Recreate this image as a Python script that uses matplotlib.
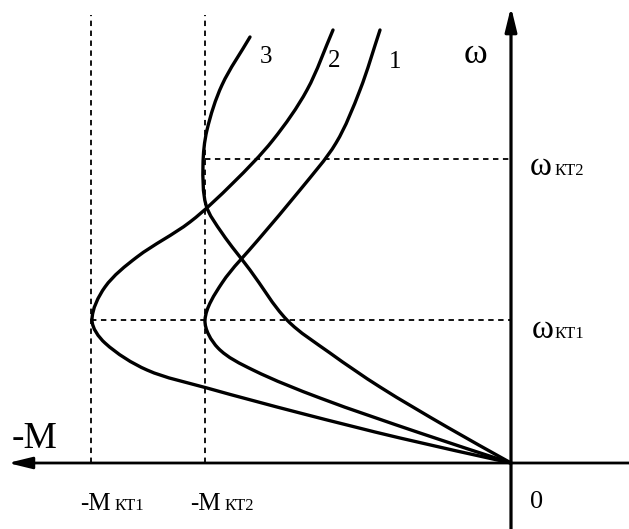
import numpy as np
import matplotlib
matplotlib.use("Agg")
import matplotlib.pyplot as plt
from matplotlib.path import Path
from matplotlib.patches import PathPatch

# Mechanical characteristics: torque M (drawn to the left) vs. angular speed omega
curve_labels = ["1", "2", "3"]

curve1_M = [1.31, 1.51, 1.75, 2.11, 2.53, 2.89, 3.06, 2.93, 2.58, 1.91, 0.91, 0.0]
curve1_w = [4.33, 3.73, 3.20, 2.73, 2.23, 1.80, 1.43, 1.15, 0.93, 0.65, 0.30, 0.0]

curve2_M = [1.78, 2.04, 2.38, 2.78, 3.21, 3.74, 4.06, 4.19, 4.06, 3.64, 3.04, 2.11, 1.11, 0.0]
curve2_w = [4.33, 3.73, 3.23, 2.80, 2.41, 2.06, 1.76, 1.43, 1.20, 0.93, 0.75, 0.50, 0.25, 0.0]

curve3_M = [2.61, 2.89, 3.04, 3.08, 3.05, 2.89, 2.61, 2.24, 1.81, 1.31, 0.64, 0.0]
curve3_w = [4.26, 3.78, 3.33, 2.98, 2.58, 2.30, 1.93, 1.43, 1.10, 0.76, 0.36, 0.0]

# critical torques and speeds
M_kt1, M_kt2 = 4.20, 3.06
w_kt1, w_kt2 = 1.43, 3.04

FONT = "Liberation Serif"


def smooth_path(xs, ys):
    """Chord-length Catmull-Rom spline through the points, as cubic Bezier segments."""
    P = np.column_stack([xs, ys]).astype(float)
    n = len(P)
    d = np.linalg.norm(np.diff(P, axis=0), axis=1)
    t = np.concatenate([[0.0], np.cumsum(d)])
    m = np.zeros_like(P)
    m[0] = (P[1] - P[0]) / (t[1] - t[0])
    m[-1] = (P[-1] - P[-2]) / (t[-1] - t[-2])
    for i in range(1, n - 1):
        m[i] = (P[i + 1] - P[i - 1]) / (t[i + 1] - t[i - 1])
    verts = [P[0]]
    codes = [Path.MOVETO]
    for i in range(n - 1):
        h = t[i + 1] - t[i]
        verts += [P[i] + m[i] * h / 3.0, P[i + 1] - m[i + 1] * h / 3.0, P[i + 1]]
        codes += [Path.CURVE4] * 3
    return Path(verts, codes)


fig = plt.figure(figsize=(6.29, 5.29), dpi=100)
ax = fig.add_axes([0, 0, 1, 1])
ax.set_xlim(5.11, -1.18)
ax.set_ylim(-0.66, 4.63)
ax.axis("off")

# axes with arrows
ax.annotate("", xy=(5.03, 0), xytext=(-1.18, 0),
            arrowprops=dict(arrowstyle="-|>,head_length=0.9,head_width=0.22",
                            mutation_scale=16, lw=2.0, color="black",
                            shrinkA=0, shrinkB=0))
ax.annotate("", xy=(0, 4.56), xytext=(0, -0.66),
            arrowprops=dict(arrowstyle="-|>,head_length=0.9,head_width=0.22",
                            mutation_scale=16, lw=2.3, color="black",
                            shrinkA=0, shrinkB=0))

# dashed guide lines
dash = dict(color="black", lw=1.3, linestyle=(0, (3, 2.5)))
ax.plot([M_kt1, M_kt1], [0, 4.48], **dash)
ax.plot([M_kt2, M_kt2], [0, 4.48], **dash)
ax.plot([M_kt1, 0], [w_kt1, w_kt1], **dash)
ax.plot([M_kt2, 0], [w_kt2, w_kt2], **dash)

# characteristic curves
for xs, ys in [(curve1_M, curve1_w), (curve2_M, curve2_w), (curve3_M, curve3_w)]:
    ax.add_patch(PathPatch(smooth_path(xs, ys), fill=False, lw=2.4,
                           edgecolor="black", capstyle="round", joinstyle="round"))

# curve numbers
for lab, (x, y) in zip(curve_labels, [(1.16, 3.95), (1.77, 3.96), (2.45, 4.00)]):
    ax.text(x, y, lab, fontsize=18, family=FONT, ha="center", va="baseline")

# axis names
ax.text(0.36, 4.00, "ω", fontsize=26, family=FONT, ha="center", va="baseline")
ax.text(4.99, 0.15, "-M", fontsize=27, family=FONT, ha="left", va="baseline")
ax.text(-0.255, -0.45, "0", fontsize=19, family=FONT, ha="center", va="baseline")

# critical speed labels
ax.text(-0.19, 2.88, "ω", fontsize=24, family=FONT, ha="left", va="baseline")
ax.text(-0.44, 2.88, "КТ2", fontsize=12, family=FONT, ha="left", va="baseline")
ax.text(-0.21, 1.25, "ω", fontsize=24, family=FONT, ha="left", va="baseline")
ax.text(-0.44, 1.25, "КТ1", fontsize=12, family=FONT, ha="left", va="baseline")

# critical torque labels
ax.text(4.31, -0.47, "-M", fontsize=18, family=FONT, ha="left", va="baseline")
ax.text(3.96, -0.47, "КТ1", fontsize=12, family=FONT, ha="left", va="baseline")
ax.text(3.21, -0.47, "-M", fontsize=18, family=FONT, ha="left", va="baseline")
ax.text(2.86, -0.47, "КТ2", fontsize=12, family=FONT, ha="left", va="baseline")

fig.savefig("out.png", dpi=100)
